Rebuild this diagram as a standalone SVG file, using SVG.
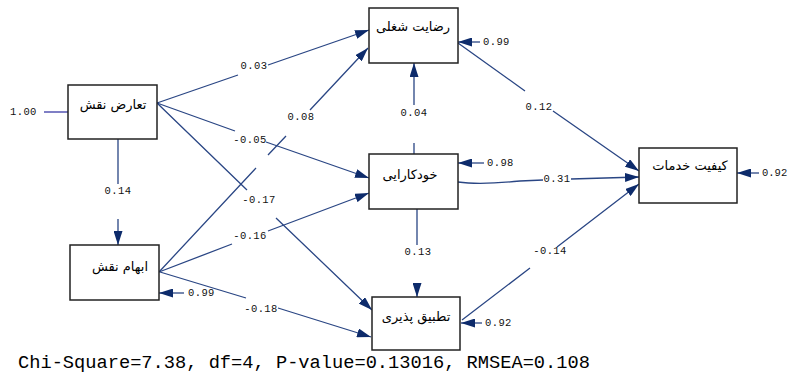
<svg xmlns="http://www.w3.org/2000/svg" width="788" height="375" viewBox="0 0 788 375">
<style>
.box{fill:#fff;stroke:#222;stroke-width:1.5}
.nt{font-family:"DejaVu Sans","Noto Sans",sans-serif;font-size:13px;fill:#000;text-anchor:middle}
.ln{fill:none;stroke:#2a4684;stroke-width:1.3}
.lb{font-family:"Liberation Mono",monospace;font-size:10.5px;fill:#111;letter-spacing:0.4px;dominant-baseline:central}
.lc{text-anchor:middle}
.ft{font-family:"Liberation Mono",monospace;font-size:18.7px;fill:#000}
</style>
<defs>
<marker id="ah" markerUnits="userSpaceOnUse" markerWidth="15" markerHeight="9" refX="14" refY="4.5" orient="auto">
<path d="M0,0 L14,4.5 L0,9 z" fill="#0d2b6b"/>
</marker>
</defs>
<rect width="788" height="375" fill="#fff"/>
<g id="connectors">
<path class="ln" d="M44,112 L68,112" style="stroke:#3a3aa6"/>
<path class="ln" d="M157,103 L238,75 M268,65 L369,30" marker-end="url(#ah)"/>
<path class="ln" d="M157,103 L235,131 M266,142 L369,178" marker-end="url(#ah)"/>
<path class="ln" d="M157,103 L247,190 M276,218 L372,310" marker-end="url(#ah)"/>
<path class="ln" d="M159,272 L256,168 M268,155 L286,136 M310,110 L368,48" marker-end="url(#ah)"/>
<path class="ln" d="M159,272 L232,244 M268,231 L369,193" marker-end="url(#ah)"/>
<path class="ln" d="M160,272 L246,298 M278,308 L371,337" marker-end="url(#ah)"/>
<path class="ln" d="M118,139 L118,184 M118,219 L118,245" marker-end="url(#ah)"/>
<path class="ln" d="M414,154 L414,143 M414,105 L414,63" marker-end="url(#ah)"/>
<path class="ln" d="M417,209 L417,245 M417,283 L417,297" marker-end="url(#ah)"/>
<path class="ln" d="M458,43 L525,91 M553,111 L639,171" marker-end="url(#ah)"/>
<path class="ln" d="M458,182 Q480,185 520,181 L543,180 M571,179 L639,177" marker-end="url(#ah)"/>
<path class="ln" d="M462,320 L530,268 M557,247 L639,184" marker-end="url(#ah)"/>
<path class="ln" d="M480,42 L458,42" marker-end="url(#ah)"/>
<path class="ln" d="M484,163 L458,163" marker-end="url(#ah)"/>
<path class="ln" d="M759,173 L737,173" marker-end="url(#ah)"/>
<path class="ln" d="M482,323 L461,323" marker-end="url(#ah)"/>
<path class="ln" d="M184,293 L159,293" marker-end="url(#ah)"/>
<text class="lb" x="10" y="112">1.00</text>
<text class="lb lc" x="254" y="66">0.03</text>
<text class="lb lc" x="250" y="140">-0.05</text>
<text class="lb lc" x="259" y="200">-0.17</text>
<text class="lb lc" x="301" y="117">0.08</text>
<text class="lb lc" x="250" y="236">-0.16</text>
<text class="lb lc" x="261" y="309">-0.18</text>
<text class="lb lc" x="118" y="191">0.14</text>
<text class="lb lc" x="414" y="113">0.04</text>
<text class="lb lc" x="418" y="252">0.13</text>
<text class="lb lc" x="539" y="107">0.12</text>
<text class="lb lc" x="557" y="179">0.31</text>
<text class="lb lc" x="550" y="251">-0.14</text>
<text class="lb" x="483" y="42">0.99</text>
<text class="lb" x="487" y="163">0.98</text>
<text class="lb" x="762" y="173" style="letter-spacing:0">0.92</text>
<text class="lb" x="485" y="323">0.92</text>
<text class="lb" x="188" y="293">0.99</text>
</g>
<g id="n1"><rect class="box" x="68" y="85" width="89" height="54"/><text class="nt" x="113" y="109">تعارض نقش</text></g>
<g id="n2"><rect class="box" x="369" y="8" width="89" height="55"/><text class="nt" x="413" y="31">رضایت شغلی</text></g>
<g id="n3"><rect class="box" x="369" y="154" width="89" height="55"/><text class="nt" x="410" y="179">خودکارایی</text></g>
<g id="n4"><rect class="box" x="639" y="148" width="98" height="55"/><text class="nt" x="690" y="170">کیفیت خدمات</text></g>
<g id="n5"><rect class="box" x="70" y="245" width="89" height="55"/><text class="nt" x="120" y="271">ابهام نقش</text></g>
<g id="n6"><rect class="box" x="372" y="297" width="88" height="53"/><text class="nt" x="416" y="321">تطبیق پذیری</text></g>
<text class="ft" x="18" y="368">Chi-Square=7.38, df=4, P-value=0.13016, RMSEA=0.108</text>
</svg>
